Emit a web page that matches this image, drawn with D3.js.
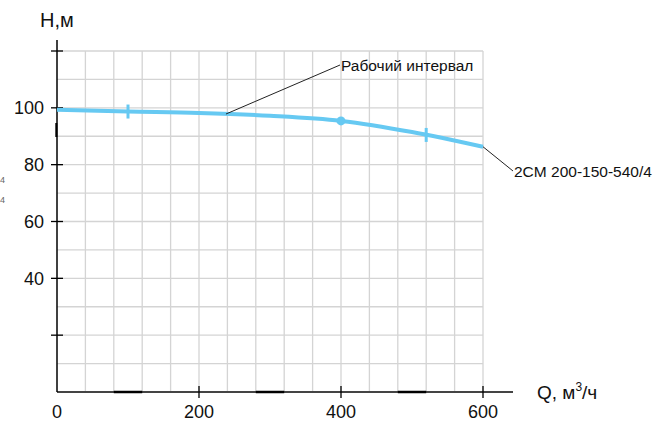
<!DOCTYPE html>
<html><head><meta charset="utf-8">
<script src="https://cdn.jsdelivr.net/npm/d3@7/dist/d3.min.js"></script>
<style>body{margin:0;background:#fff}svg{display:block;font-family:"Liberation Sans",Arial,sans-serif}</style>
</head><body><svg id="c" width="670" height="423"></svg>
<script>
const flow = [0, 100, 200, 300, 400, 500, 600];
const head = [99.3, 98.7, 98.2, 97.2, 95.4, 91.5, 86.3];
const xTickLabels = [0, 200, 400, 600];
const yTickLabels = [40, 60, 80, 100];
const yTicksAll = [20, 40, 60, 80, 100, 120];
const workMarks = [100, 520];
const bepFlow = [400];
const xGrid = d3.range(40, 601, 40);
const yGrid = d3.range(10, 121, 10);
const thickSegs = [[80,120],[280,320],[480,520]];
const seriesName = "2CM 200-150-540/4";
const workLabel = "Рабочий интервал";

const svg = d3.select("#c");
const x = d3.scaleLinear().domain([0, 600]).range([57, 483]);
const y = d3.scaleLinear().domain([0, 120]).range([392, 51]);
const interp = d3.scaleLinear().domain(flow).range(head);

// grid
svg.append("g").selectAll("line").data(xGrid).join("line")
  .attr("x1", d => x(d)).attr("x2", d => x(d)).attr("y1", y(120)).attr("y2", y(0))
  .attr("stroke", "#d4d4d4").attr("stroke-width", 1.3);
svg.append("g").selectAll("line").data(yGrid).join("line")
  .attr("x1", x(0)).attr("x2", x(600)).attr("y1", d => y(d)).attr("y2", d => y(d))
  .attr("stroke", "#d4d4d4").attr("stroke-width", 1.3);

// axes
svg.append("line").attr("x1", x(0)).attr("x2", 513).attr("y1", y(0)).attr("y2", y(0))
  .attr("stroke", "#444").attr("stroke-width", 2);
svg.append("g").selectAll("line").data(thickSegs).join("line")
  .attr("x1", d => x(d[0])).attr("x2", d => x(d[1])).attr("y1", y(0)).attr("y2", y(0))
  .attr("stroke", "#000").attr("stroke-width", 2.5);
svg.append("line").attr("x1", x(0)).attr("x2", x(0)).attr("y1", 40).attr("y2", y(0))
  .attr("stroke", "#000").attr("stroke-width", 1.5);
svg.append("line").attr("x1", x(0)-0.7).attr("x2", x(0)-0.7).attr("y1", 123).attr("y2", 137)
  .attr("stroke", "#000").attr("stroke-width", 2);

// ticks
svg.append("g").selectAll("line").data(yTicksAll).join("line")
  .attr("x1", 51).attr("x2", 63).attr("y1", d => y(d)).attr("y2", d => y(d))
  .attr("stroke", "#000").attr("stroke-width", 1.3);
svg.append("g").selectAll("line").data(xTickLabels.filter(d => d > 0)).join("line")
  .attr("x1", d => x(d)).attr("x2", d => x(d)).attr("y1", 386).attr("y2", 398)
  .attr("stroke", "#000").attr("stroke-width", 1.3);

// tick labels
svg.append("g").selectAll("text").data(yTickLabels).join("text")
  .attr("x", 44).attr("y", d => y(d)).attr("dy", "0.36em").attr("text-anchor", "end")
  .attr("font-size", 18).attr("fill", "#111").text(d => d);
svg.append("g").selectAll("text").data(xTickLabels).join("text")
  .attr("x", d => x(d)).attr("y", 418).attr("text-anchor", "middle")
  .attr("font-size", 18).attr("fill", "#111").text(d => d);

// axis titles
svg.append("text").attr("x", 40).attr("y", 27).attr("font-size", 20).attr("fill", "#111").text("Н,м");
const qt = svg.append("text").attr("x", 537).attr("y", 399).attr("font-size", 19).attr("fill", "#111");
qt.append("tspan").text("Q, м");
qt.append("tspan").attr("font-size", 12).attr("dy", -8).text("3");
qt.append("tspan").attr("dy", 8).text("/ч");

// left edge glyphs
svg.append("g").selectAll("text").data([180, 200]).join("text")
  .attr("x", 0).attr("y", d => d).attr("dy", "0.35em").attr("font-size", 9).attr("fill", "#666").text("4");

// curve
const line = d3.line().x((d, i) => x(flow[i])).y(d => y(d)).curve(d3.curveMonotoneX);
svg.append("path").attr("d", line(head)).attr("fill", "none")
  .attr("stroke", "#66c9f2").attr("stroke-width", 4).attr("stroke-linecap", "butt");

// working range marks
svg.append("g").selectAll("line").data(workMarks).join("line")
  .attr("x1", d => x(d)).attr("x2", d => x(d))
  .attr("y1", d => y(interp(d)) - 7).attr("y2", d => y(interp(d)) + 7)
  .attr("stroke", "#66c9f2").attr("stroke-width", 3);
svg.append("g").selectAll("circle").data(bepFlow).join("circle")
  .attr("cx", d => x(d)).attr("cy", d => y(interp(d))).attr("r", 4.5).attr("fill", "#66c9f2");

// annotations
svg.append("line").attr("x1", x(238)).attr("y1", y(interp(238))).attr("x2", 340).attr("y2", 65)
  .attr("stroke", "#222").attr("stroke-width", 1);
svg.append("text").attr("x", 341).attr("y", 65).attr("dy", "0.36em").attr("font-size", 15.5).attr("fill", "#111").text(workLabel);
svg.append("line").attr("x1", x(600)).attr("y1", y(interp(600))).attr("x2", 513).attr("y2", 171)
  .attr("stroke", "#222").attr("stroke-width", 1);
svg.append("text").attr("x", 514).attr("y", 171).attr("dy", "0.36em").attr("font-size", 15.5).attr("fill", "#111").text(seriesName);
</script></body></html>
